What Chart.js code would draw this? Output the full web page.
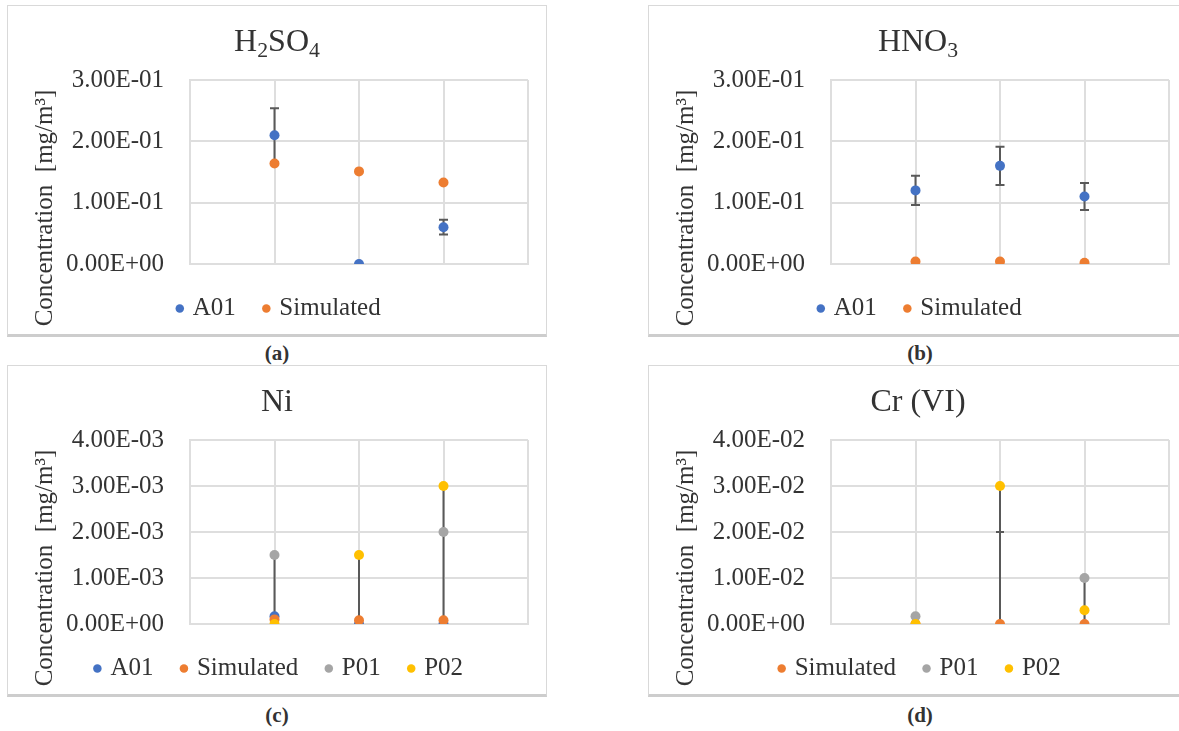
<!DOCTYPE html>
<html>
<head>
<meta charset="utf-8">
<script src="https://cdn.jsdelivr.net/npm/chart.js@4.4.1/dist/chart.umd.min.js"></script>
<style>
  body { margin: 0; width: 1179px; height: 731px; overflow: hidden; background: #fff;
         font-family: "Liberation Serif", "Times New Roman", serif; color: #333; }
  .panel { position: absolute; width: 540px; height: 332px; box-sizing: border-box;
           border: 1px solid #d9d9d9; border-bottom: 3px solid #cdcdcd; }
  .panel canvas { position: absolute; left: -1px; top: -1px; }
  .title { position: absolute; left: -1px; width: 540px; top: 14px; height: 40px; line-height: 40px;
           text-align: center; font-size: 32px; }
  .title sub { font-size: 0.68em; vertical-align: -0.28em; line-height: 0; }
  .ytitle { position: absolute; left: -114px; top: 187px; width: 300px; height: 30px; line-height: 30px;
            text-align: center; font-size: 25px; transform: rotate(-90deg); white-space: nowrap; }
  .cap { position: absolute; width: 100px; height: 24px; line-height: 24px; text-align: center;
         font-size: 21px; font-weight: bold; }
</style>
</head>
<body>

<div class="panel" style="left:7px;top:5px">
  <canvas id="chartA" width="540" height="332"></canvas>
  <div class="title">H<sub>2</sub>SO<sub>4</sub></div>
  <div class="ytitle">Concentration&nbsp; [mg/m³]</div>
</div>
<div class="cap" style="left:227px;top:341px">(a)</div>

<div class="panel" style="left:648px;top:5px">
  <canvas id="chartB" width="540" height="332"></canvas>
  <div class="title">HNO<sub>3</sub></div>
  <div class="ytitle">Concentration&nbsp; [mg/m³]</div>
</div>
<div class="cap" style="left:870px;top:341px">(b)</div>

<div class="panel" style="left:7px;top:365px">
  <canvas id="chartC" width="540" height="332"></canvas>
  <div class="title">Ni</div>
  <div class="ytitle">Concentration&nbsp; [mg/m³]</div>
</div>
<div class="cap" style="left:227px;top:703px">(c)</div>

<div class="panel" style="left:648px;top:365px">
  <canvas id="chartD" width="540" height="332"></canvas>
  <div class="title">Cr (VI)</div>
  <div class="ytitle">Concentration&nbsp; [mg/m³]</div>
</div>
<div class="cap" style="left:870px;top:703px">(d)</div>

<script>
// sampling points sit at x = 1, 2, 3 on a 0..4 axis
const categories = [1, 2, 3];

// (a) H2SO4
const h2so4A01 = [0.21, 0.0, 0.06];
const h2so4A01Err = [0.044, 0, 0.012];
const h2so4Sim = [0.164, 0.151, 0.133];
const h2so4Ticks = [0, 0.1, 0.2, 0.3];

// (b) HNO3
const hno3A01 = [0.12, 0.16, 0.11];
const hno3A01Err = [0.024, 0.031, 0.022];
const hno3Sim = [0.004, 0.004, 0.002];
const hno3Ticks = [0, 0.1, 0.2, 0.3];

// (c) Ni
const niA01 = [0.00017, 0, 0];
const niSim = [0.0001, 0.00008, 0.00008];
const niP01 = [0.0015, null, 0.002];
const niP02 = [0, 0.0015, 0.003];
const niRangeLo = [0.00017, 0, 0];
const niRangeHi = [0.0015, 0.0015, 0.003];
const niTicks = [0, 0.001, 0.002, 0.003, 0.004];

// (d) Cr (VI)
const crSim = [0, 0, 0];
const crP01 = [0.0017, null, 0.01];
const crP02 = [0, 0.03, 0.003];
const crRangeLo = [null, 0, 0];
const crRangeHi = [null, 0.03, 0.01];
const crMark = [null, 0.02, null];
const crTicks = [0, 0.01, 0.02, 0.03, 0.04];

const BLUE = '#4472C4', ORANGE = '#ED7D31', GREY = '#A5A5A5', GOLD = '#FFC000';
const GRID = '#dedede';

Chart.defaults.font.family = '"Liberation Serif", "Times New Roman", serif';
Chart.defaults.color = '#333';

// Excel style 0.00E+00 labels
function sci(v) {
    const [m, e] = Number(v).toExponential(2).split('e');
    const n = parseInt(e, 10);
    return m + 'E' + (n < 0 ? '-' : '+') + String(Math.abs(n)).padStart(2, '0');
}

// vertical bars with optional caps, drawn under the markers
const errorBars = {
    id: 'errorBars',
    beforeDatasetsDraw(chart, args, opts) {
        const { ctx } = chart;
        const x = chart.scales.x, y = chart.scales.y;
        ctx.save();
        ctx.strokeStyle = '#595959';
        ctx.lineWidth = 2;
        (opts.bars || []).forEach(b => {
            const px = x.getPixelForValue(b.x);
            const top = y.getPixelForValue(b.hi);
            const bot = y.getPixelForValue(b.lo);
            ctx.beginPath();
            ctx.moveTo(px, top);
            ctx.lineTo(px, bot);
            if (b.cap) {
                ctx.moveTo(px - b.cap, top); ctx.lineTo(px + b.cap, top);
                ctx.moveTo(px - b.cap, bot); ctx.lineTo(px + b.cap, bot);
            }
            ctx.stroke();
        });
        ctx.restore();
    }
};

function symBars(vals, errs) {
    return categories
        .map((c, i) => ({ x: c, lo: vals[i] - errs[i], hi: vals[i] + errs[i], cap: 4.5 }))
        .filter((b, i) => errs[i] > 0);
}

function rangeBars(lo, hi) {
    return categories
        .map((c, i) => ({ x: c, lo: lo[i], hi: hi[i], cap: 0 }))
        .filter(b => b.lo !== null && b.hi !== null);
}

function makeChart(id, series, ticks, bars) {
    const n = series.length;
    return new Chart(document.getElementById(id), {
        type: 'scatter',
        data: {
            datasets: series.map((s, i) => ({
                label: s.label,
                data: categories.map((c, j) => ({ x: c, y: s.values[j] })),
                backgroundColor: s.color,
                borderColor: s.color,
                pointRadius: 5,
                pointHoverRadius: 5,
                pointBorderWidth: 0,
                order: n - i
            }))
        },
        options: {
            responsive: false,
            animation: false,
            events: [],
            layout: { padding: { left: 25, right: 19, top: 75, bottom: 6 } },
            scales: {
                x: {
                    type: 'linear', min: 0, max: 4,
                    ticks: { display: false, stepSize: 1 },
                    grid: { color: GRID, lineWidth: 2, drawTicks: false },
                    border: { color: GRID, width: 2 },
                    afterFit: s => { s.height = 2; }
                },
                y: {
                    min: ticks[0], max: ticks[ticks.length - 1],
                    afterBuildTicks: s => { s.ticks = ticks.map(v => ({ value: v })); },
                    ticks: { padding: 26, font: { size: 25 }, color: '#333', callback: v => sci(v) },
                    grid: { color: GRID, lineWidth: 2, drawTicks: false },
                    border: { color: GRID, width: 2 },
                    afterFit: s => { s.width = 158; }
                }
            },
            plugins: {
                legend: {
                    position: 'bottom',
                    labels: {
                        usePointStyle: true, pointStyle: 'circle',
                        boxWidth: 1, boxHeight: 6, padding: 30,
                        font: { size: 25 }, color: '#333',
                        sort: (a, b) => a.datasetIndex - b.datasetIndex
                    }
                },
                tooltip: { enabled: false },
                errorBars: { bars: bars }
            }
        },
        plugins: [errorBars]
    });
}

makeChart('chartA', [
    { label: 'A01', values: h2so4A01, color: BLUE },
    { label: 'Simulated', values: h2so4Sim, color: ORANGE }
], h2so4Ticks, symBars(h2so4A01, h2so4A01Err));

makeChart('chartB', [
    { label: 'A01', values: hno3A01, color: BLUE },
    { label: 'Simulated', values: hno3Sim, color: ORANGE }
], hno3Ticks, symBars(hno3A01, hno3A01Err));

makeChart('chartC', [
    { label: 'A01', values: niA01, color: BLUE },
    { label: 'Simulated', values: niSim, color: ORANGE },
    { label: 'P01', values: niP01, color: GREY },
    { label: 'P02', values: niP02, color: GOLD }
], niTicks, rangeBars(niRangeLo, niRangeHi));

makeChart('chartD', [
    { label: 'Simulated', values: crSim, color: ORANGE },
    { label: 'P01', values: crP01, color: GREY },
    { label: 'P02', values: crP02, color: GOLD }
], crTicks, rangeBars(crRangeLo, crRangeHi).concat(
    categories.map((c, i) => ({ x: c, lo: crMark[i], hi: crMark[i], cap: 4 })).filter(b => b.lo !== null)
));
</script>
</body>
</html>
